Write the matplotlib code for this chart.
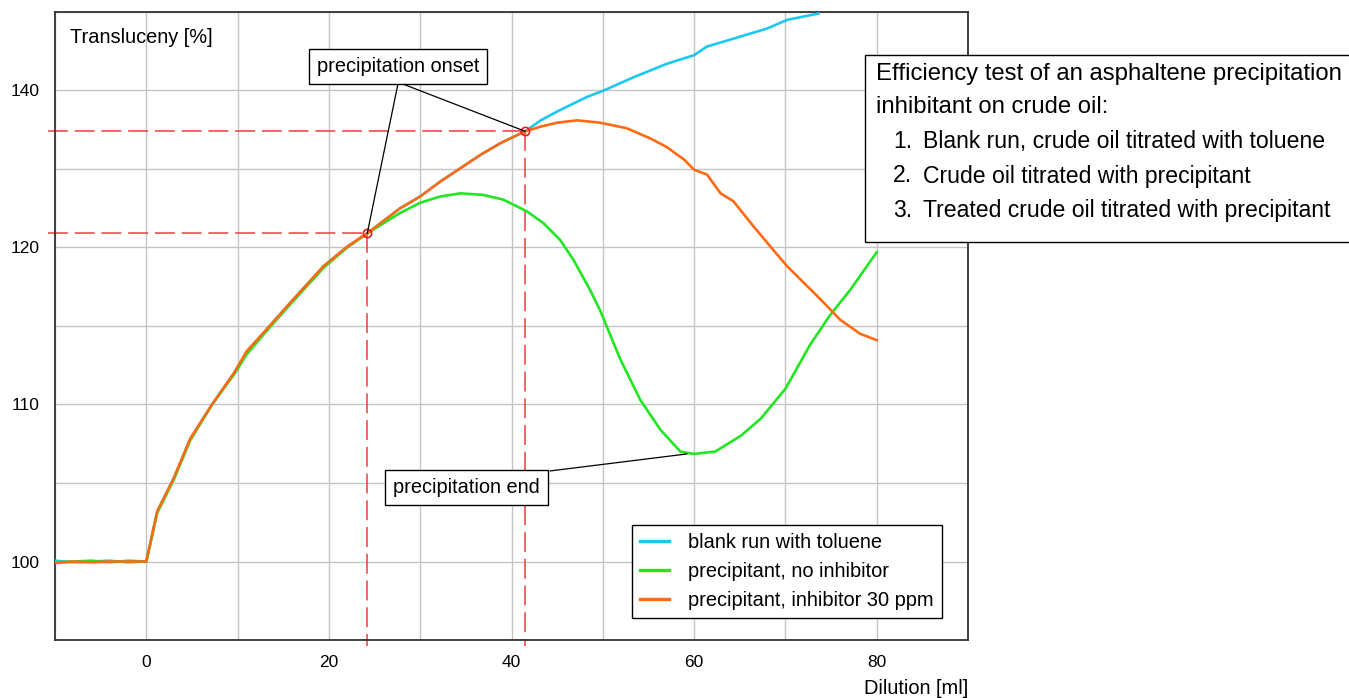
import numpy as np
import matplotlib
matplotlib.use("Agg")
import matplotlib.pyplot as plt
from matplotlib.patches import Rectangle

plt.rcParams['font.family'] = ['Liberation Sans', 'DejaVu Sans']

# Titrationskurven
blank_x = [-10, -8, -6, -4, -2, 0, 1.2, 3.0, 4.8, 7.2, 9.6, 11.0, 13.2, 15.8, 19.4, 22.0, 24.2,
           27.8, 30.0, 32.2, 34.4, 36.6, 38.8, 41.5, 43.2, 45.3, 48.3, 50.1, 53.4, 57.0, 60.0,
           61.4, 64.3, 68.0, 70.2, 73.6]
blank_y = [100.05, 99.95, 100.0, 100.05, 99.95, 100.0, 103.2, 105.3, 107.8, 110.0, 112.0, 113.3,
           114.8, 116.5, 118.8, 120.1, 121.8, 125.0, 126.5, 128.4, 130.1, 131.8, 133.3, 134.8,
           136.2, 137.5, 139.2, 140.0, 141.7, 143.4, 144.5, 145.6, 146.6, 147.9, 149.0, 149.8]

noinh_x = [-10, -8, -6, -4, -2, 0, 1.2, 3.0, 4.8, 7.2, 9.6, 11.0, 13.2, 15.8, 19.4, 22.0, 24.2,
           27.8, 30.0, 32.2, 34.4, 36.9, 39.1, 41.7, 43.5, 45.3, 46.8, 48.6, 49.7, 51.9, 54.1,
           56.3, 58.5, 60.0, 62.3, 65.1, 67.3, 70.0, 72.7, 74.9, 77.1, 80.0]
noinh_y = [99.95, 100.0, 100.05, 99.95, 100.05, 100.0, 103.1, 105.2, 107.7, 110.0, 111.9, 113.2,
           114.7, 116.4, 118.7, 120.0, 121.8, 124.4, 125.7, 126.5, 126.9, 126.7, 126.1, 124.6,
           123.1, 121.0, 119.2, 117.3, 116.0, 112.9, 110.3, 108.4, 107.0, 106.85, 107.0, 108.0,
           109.1, 111.0, 113.8, 115.7, 117.3, 119.7]

inh_x = [-10, -8, -6, -4, -2, 0, 1.2, 3.0, 4.8, 7.2, 9.6, 11.0, 13.2, 15.8, 19.4, 22.0, 24.2,
         27.8, 30.0, 32.2, 34.4, 36.6, 38.8, 41.5, 43.2, 45.0, 47.2, 49.7, 52.6, 55.2, 57.0,
         58.9, 60.0, 61.4, 62.9, 64.3, 66.5, 68.3, 70.2, 73.5, 76.0, 78.2, 80.0]
inh_y = [99.9, 100.0, 99.95, 100.0, 100.0, 100.0, 103.2, 105.3, 107.8, 110.0, 112.0, 113.4,
         114.8, 116.5, 118.8, 120.1, 121.8, 125.0, 126.5, 128.4, 130.1, 131.8, 133.3, 134.8,
         135.4, 135.9, 136.2, 135.9, 135.2, 133.9, 132.8, 131.2, 129.9, 129.3, 126.9, 125.9,
         122.7, 120.2, 118.8, 116.9, 115.4, 114.5, 114.1]

onset_x = [24.2, 41.5]
onset_y = [121.8, 134.8]
end_x, end_y = 59.2, 106.85

labels = ['blank run with toluene', 'precipitant, no inhibitor', 'precipitant, inhibitor 30 ppm']
colors = ['#1cc8f2', '#22e622', '#ff6a14']
info_lines = ['Efficiency test of an asphaltene precipitation',
              'inhibitant on crude oil:']
info_items = ['Blank run, crude oil titrated with toluene',
              'Crude oil titrated with precipitant',
              'Treated crude oil titrated with precipitant']


# Achse oberhalb von 120 gestaucht
def fwd(y):
    y = np.asarray(y, dtype=float)
    return np.where(y <= 120, y, 120 + (y - 120) / 2)


def inv(z):
    z = np.asarray(z, dtype=float)
    return np.where(z <= 120, z, 120 + (z - 120) * 2)


fig = plt.figure(figsize=(13.49, 6.98), dpi=100)
ax = fig.add_axes([55 / 1349, 1 - 640 / 698, 913 / 1349, 628 / 698])
ax.set_yscale('function', functions=(fwd, inv))
ax.set_xlim(-10, 90)
ax.set_ylim(95, 150)

ax.set_xticks([0, 20, 40, 60, 80])
ax.set_xticks([-10, 10, 30, 50, 70, 90], minor=True)
ax.set_yticks([100, 110, 120, 140])
ax.set_yticks([95, 105, 115, 130, 150], minor=True)
ax.set_yticklabels(['100', '110', '120', '140'])
ax.set_xticklabels(['0', '20', '40', '60', '80'])
ax.grid(True, which='both', color='#c4c4c4', linewidth=1.0)
ax.set_axisbelow(True)
ax.tick_params(which='both', length=0, labelsize=12.5, pad=11)
for s in ax.spines.values():
    s.set_color('#333333')
    s.set_linewidth(1.3)

ax.plot(blank_x, blank_y, color=colors[0], lw=1.9, label=labels[0], zorder=3)
ax.plot(noinh_x, noinh_y, color=colors[1], lw=1.9, label=labels[1], zorder=3)
ax.plot(inh_x, inh_y, color=colors[2], lw=1.9, label=labels[2], zorder=4)

# Hilfslinien zu den Fällungspunkten
for ox, oy in zip(onset_x, onset_y):
    ax.plot([-10.8, ox], [oy, oy], color='#f03c3c', lw=1.1, dashes=(13, 4.5), clip_on=False, zorder=2)
    ax.plot([ox, ox], [oy, 94.6], color='#f03c3c', lw=1.1, dashes=(13, 4.5), clip_on=False, zorder=2)
ax.plot(onset_x, onset_y, 'o', ms=6, mfc='none', mec='#e82020', mew=1.2, zorder=5)

for ox, oy in zip(onset_x, onset_y):
    ax.plot([27.6, ox], [141.05, oy], color='black', lw=0.9, zorder=5)
ax.text(27.6, 143.1, 'precipitation onset', fontsize=14.4, ha='center', va='center', zorder=6,
        bbox=dict(boxstyle='square,pad=0.4', fc='white', ec='black', lw=1))

ax.plot([44.25, end_x], [105.77, end_y], color='black', lw=0.9, zorder=5)
ax.text(35.1, 104.7, 'precipitation end', fontsize=14.4, ha='center', va='center', zorder=6,
        bbox=dict(boxstyle='square,pad=0.4', fc='white', ec='black', lw=1))

ax.text(0.0164, 0.9586, 'Transluceny [%]', transform=ax.transAxes, fontsize=14.4,
        ha='left', va='center')
fig.text(968 / 1349, 1 - 688 / 698, 'Dilution [ml]', fontsize=14.4, ha='right', va='center')

leg = ax.legend(loc='lower right', bbox_to_anchor=(0.9715, 0.035), borderaxespad=0,
                fontsize=14.4, fancybox=False, framealpha=1, edgecolor='black',
                handlelength=1.45, handletextpad=0.95, labelspacing=0.48, borderpad=0.42)
leg.get_frame().set_linewidth(1.0)
leg.set_zorder(7)
for h in leg.get_lines():
    h.set_linewidth(2.4)

# Textkasten rechts
fig.patches.append(Rectangle((865 / 1349, 1 - 242 / 698), 500 / 1349, 187 / 698,
                             transform=fig.transFigure, fc='white', ec='black', lw=1, zorder=8))
base = [80, 113]
for txt, b in zip(info_lines, base):
    fig.text(876 / 1349, 1 - b / 698, txt, fontsize=17.2, ha='left', va='baseline', zorder=9)
for i, txt in enumerate(info_items):
    b = 148 + 34.5 * i
    fig.text(893 / 1349, 1 - b / 698, '%d.' % (i + 1), fontsize=16.6, ha='left', va='baseline', zorder=9)
    fig.text(923 / 1349, 1 - b / 698, txt, fontsize=16.6, ha='left', va='baseline', zorder=9)

fig.savefig('out.png', dpi=100)
